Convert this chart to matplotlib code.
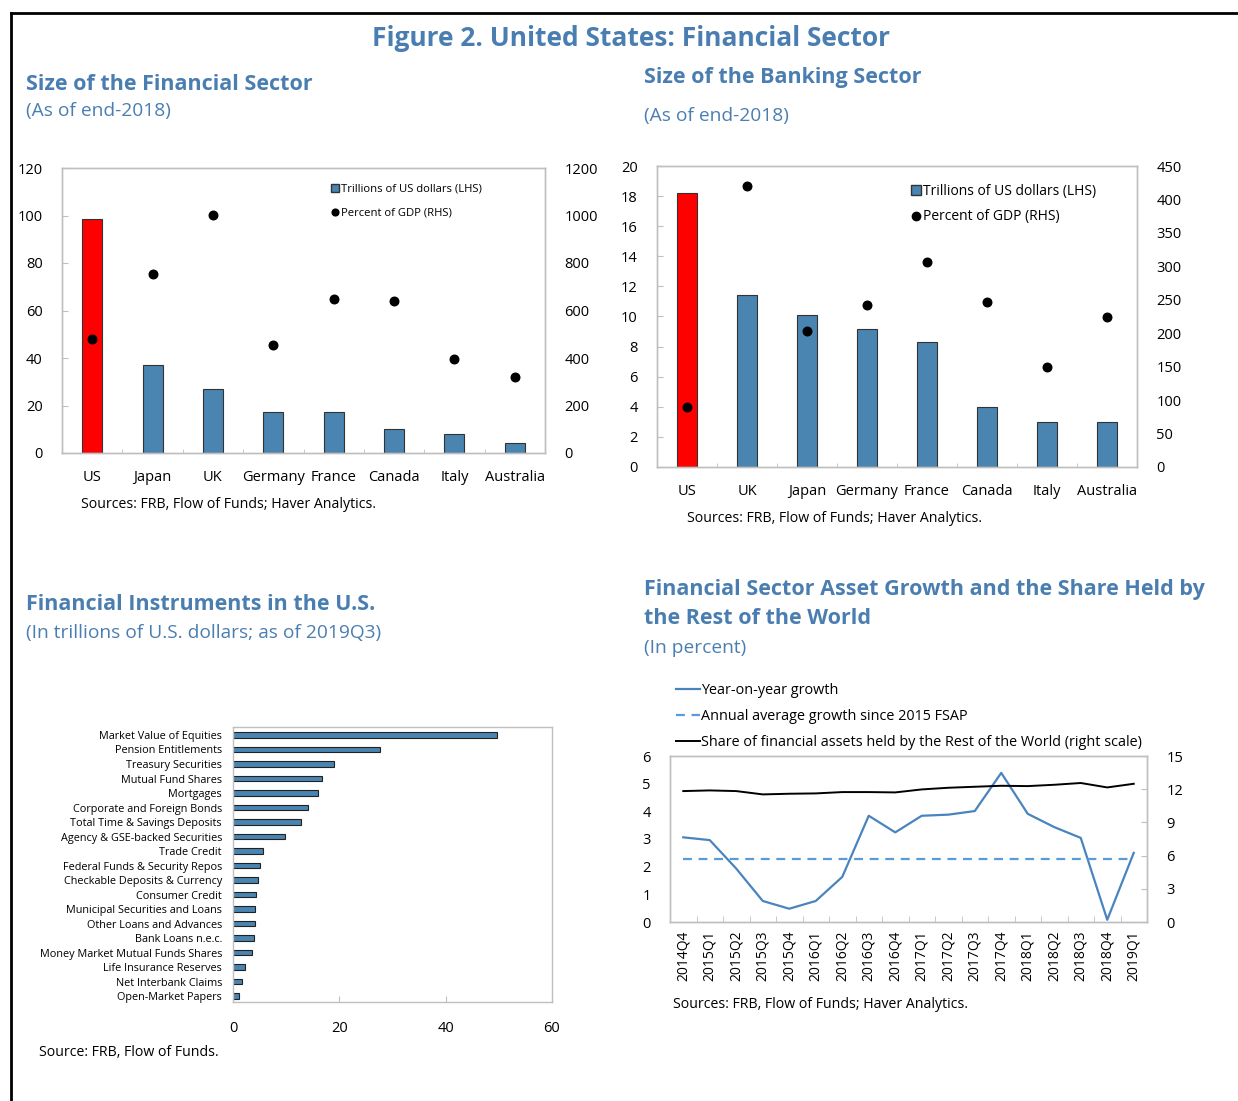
import numpy as np
import matplotlib
matplotlib.use("Agg")
import matplotlib.pyplot as plt
from matplotlib.lines import Line2D

W, H = 1238, 1101
plt.rcParams['font.family'] = ['Open Sans', 'DejaVu Sans']

BLUE_T = '#4A7EB1'   # title colour
BAR = '#4A84B0'
GRID = '#BFBFBF'

# ---- data: size of the financial sector
fin_cty = ['US', 'Japan', 'UK', 'Germany', 'France', 'Canada', 'Italy', 'Australia']
fin_usd = [98.5, 37.0, 27.0, 17.3, 17.3, 10.3, 8.0, 4.2]
fin_gdp = [480, 755, 1000, 455, 648, 640, 395, 320]

# ---- data: size of the banking sector
bank_cty = ['US', 'UK', 'Japan', 'Germany', 'France', 'Canada', 'Italy', 'Australia']
bank_usd = [18.2, 11.4, 10.1, 9.2, 8.3, 4.0, 3.0, 3.0]
bank_gdp = [90, 420, 204, 242, 307, 247, 150, 224]

# ---- data: financial instruments
instr = ['Market Value of Equities', 'Pension Entitlements', 'Treasury Securities',
         'Mutual Fund Shares', 'Mortgages', 'Corporate and Foreign Bonds',
         'Total Time & Savings Deposits', 'Agency & GSE-backed Securities',
         'Trade Credit', 'Federal Funds & Security Repos', 'Checkable Deposits & Currency',
         'Consumer Credit', 'Municipal Securities and Loans', 'Other Loans and Advances',
         'Bank Loans n.e.c.', 'Money Market Mutual Funds Shares', 'Life Insurance Reserves',
         'Net Interbank Claims', 'Open-Market Papers']
instr_val = [49.6, 27.6, 19.0, 16.7, 16.0, 14.2, 12.8, 9.7, 5.6, 5.0, 4.7, 4.3,
             4.1, 4.1, 3.9, 3.6, 2.3, 1.7, 1.1]

# ---- data: asset growth and RoW share
quarters = ['2014Q4', '2015Q1', '2015Q2', '2015Q3', '2015Q4', '2016Q1', '2016Q2', '2016Q3',
            '2016Q4', '2017Q1', '2017Q2', '2017Q3', '2017Q4', '2018Q1', '2018Q2', '2018Q3',
            '2018Q4', '2019Q1']
yoy = [3.06, 2.96, 1.93, 0.76, 0.48, 0.76, 1.63, 3.84, 3.24, 3.84, 3.88, 4.01, 5.39,
       3.91, 3.43, 3.04, 0.08, 2.5]
avg_growth = 2.28
row_share = [11.83, 11.89, 11.83, 11.53, 11.59, 11.62, 11.74, 11.74, 11.71, 11.98, 12.13,
             12.22, 12.31, 12.28, 12.40, 12.56, 12.16, 12.49]


def rect(l, t, r, b):
    return [l / W, 1 - b / H, (r - l) / W, (b - t) / H]


def ftext(x, y, s, **kw):
    kw.setdefault('va', 'center')
    kw.setdefault('ha', 'left')
    fig.text(x / W, 1 - y / H, s, **kw)


def style_box(ax):
    for sp in ax.spines.values():
        sp.set_color(GRID)
        sp.set_linewidth(1.0)


fig = plt.figure(figsize=(W / 100, H / 100), dpi=100)

# frame lines (left and top)
fig.add_artist(Line2D([11 / W, 11 / W], [0, 1 - 13 / H], color='black', lw=2))
fig.add_artist(Line2D([11 / W, 1], [1 - 13 / H, 1 - 13 / H], color='black', lw=2))

# titles
TB = 15.5   # panel titles
TS = 13.8   # subtitles
ftext(631, 39, 'Figure 2. United States: Financial Sector', ha='center',
      fontsize=19, fontweight='bold', color=BLUE_T)
ftext(26, 84, 'Size of the Financial Sector', fontsize=TB, fontweight='bold', color=BLUE_T)
ftext(26, 111, '(As of end-2018)', fontsize=TS, color=BLUE_T)
ftext(644, 78, 'Size of the Banking Sector', fontsize=TB, fontweight='bold', color=BLUE_T)
ftext(644, 116, '(As of end-2018)', fontsize=TS, color=BLUE_T)
ftext(26, 604, 'Financial Instruments in the U.S.', fontsize=TB, fontweight='bold', color=BLUE_T)
ftext(26, 633, '(In trillions of U.S. dollars; as of 2019Q3)', fontsize=TS, color=BLUE_T)
ftext(644, 590, 'Financial Sector Asset Growth and the Share Held by', fontsize=TB,
      fontweight='bold', color=BLUE_T)
ftext(644, 619, 'the Rest of the World', fontsize=TB, fontweight='bold', color=BLUE_T)
ftext(644, 648, '(In percent)', fontsize=TS, color=BLUE_T)

ftext(81, 504, 'Sources: FRB, Flow of Funds; Haver Analytics.', fontsize=10.2)
ftext(687, 518, 'Sources: FRB, Flow of Funds; Haver Analytics.', fontsize=10.2)
ftext(39, 1053, 'Source: FRB, Flow of Funds.', fontsize=10.2)
ftext(673, 1004, 'Sources: FRB, Flow of Funds; Haver Analytics.', fontsize=10.2)


def country_panel(r, cats, usd, gdp, ylim, yticks, y2lim, y2ticks, leg_anchor, leg_fs, leg_sp):
    ax = fig.add_axes(rect(*r))
    x = np.arange(len(cats))
    colors = ['#FF0000'] + [BAR] * (len(cats) - 1)
    ax.bar(x, usd, width=0.33, color=colors, edgecolor='#333333', linewidth=0.8, zorder=2)
    ax.set_xlim(-0.5, len(cats) - 0.5)
    ax.set_ylim(*ylim)
    ax.set_yticks(yticks)
    ax.set_xticks(x)
    ax.set_xticklabels(cats)
    ax.set_xticks(np.arange(len(cats) - 1) + 0.5, minor=True)
    ax.tick_params(axis='x', which='major', length=0, pad=12, labelsize=10.5)
    ax.tick_params(axis='x', which='minor', direction='in', length=3, color=GRID)
    ax.tick_params(axis='y', direction='in', length=4, color=GRID, pad=14, labelsize=10.5)
    style_box(ax)
    ax2 = ax.twinx()
    ax2.scatter(x, gdp, s=38, color='black', zorder=3)
    ax2.set_ylim(*y2lim)
    ax2.set_yticks(y2ticks)
    ax2.tick_params(axis='y', length=0, pad=14, labelsize=10.5)
    style_box(ax2)
    handles = [Line2D([], [], marker='s', ls='none', markersize=leg_fs * 0.7,
                      markerfacecolor=BAR, markeredgecolor='#333333'),
               Line2D([], [], marker='o', ls='none', markersize=leg_fs * 0.6, color='black')]
    ax2.legend(handles, ['Trillions of US dollars (LHS)', 'Percent of GDP (RHS)'],
               loc='upper left', bbox_to_anchor=leg_anchor, frameon=False,
               fontsize=leg_fs, handlelength=0.6, handletextpad=0.2,
               labelspacing=leg_sp, borderaxespad=0, borderpad=0)
    return ax


country_panel((62, 168, 545, 453), fin_cty, fin_usd, fin_gdp, (0, 120), range(0, 121, 20),
              (0, 1200), range(0, 1201, 200), (0.558, 0.945), 8.1, 1.15)
country_panel((657, 166, 1137, 467), bank_cty, bank_usd, bank_gdp, (0, 20), range(0, 21, 2),
              (0, 450), range(0, 451, 50), (0.53, 0.94), 10, 0.75)

# ---- horizontal bars
ax3 = fig.add_axes(rect(233, 727, 552, 1002))
y = np.arange(len(instr))
ax3.barh(y, instr_val, height=0.38, color=BAR, edgecolor='#222222', linewidth=0.8)
ax3.set_ylim(len(instr) - 0.6, -0.55)
ax3.set_xlim(0, 60)
ax3.set_xticks([0, 20, 40, 60])
ax3.set_yticks(y)
ax3.set_yticklabels(instr)
ax3.tick_params(axis='y', length=0, pad=8, labelsize=7.8)
ax3.tick_params(axis='x', direction='in', length=4, color=GRID, pad=14, labelsize=10.5)
style_box(ax3)

# ---- growth lines
ax4 = fig.add_axes(rect(670, 756, 1147, 922))
xq = np.arange(len(quarters))
l1, = ax4.plot(xq, yoy, color='#4A84BE', lw=1.6, label='Year-on-year growth')
l2, = ax4.plot(xq, [avg_growth] * len(xq), color='#5B9BD5', lw=1.6, ls=(0, (4, 3)),
               label='Annual average growth since 2015 FSAP')
ax4.set_xlim(-0.5, len(quarters) - 0.5)
ax4.set_ylim(0, 6)
ax4.set_yticks(range(0, 7))
ax4.set_xticks(xq)
ax4.set_xticklabels(quarters, rotation=90)
ax4.set_xticks(np.arange(len(quarters) - 1) + 0.5, minor=True)
ax4.tick_params(axis='x', which='major', length=0, pad=6, labelsize=10)
ax4.tick_params(axis='x', which='minor', direction='in', length=4, color=GRID)
ax4.tick_params(axis='y', length=0, pad=14, labelsize=10.5)
style_box(ax4)
ax5 = ax4.twinx()
l3, = ax5.plot(xq, row_share, color='black', lw=1.4,
               label='Share of financial assets held by the Rest of the World (right scale)')
ax5.set_ylim(0, 15)
ax5.set_yticks(range(0, 16, 3))
ax5.tick_params(axis='y', direction='in', length=4, color=GRID, pad=14, labelsize=10.5)
style_box(ax5)
fig.legend([l1, l2, l3], [l1.get_label(), l2.get_label(), l3.get_label()],
           loc='upper left', bbox_to_anchor=(676 / W, 1 - 683 / H), frameon=False,
           fontsize=10.4, handlelength=1.65, handletextpad=0.05, labelspacing=0.75,
           borderaxespad=0, borderpad=0)

fig.savefig('out.png', dpi=100)
